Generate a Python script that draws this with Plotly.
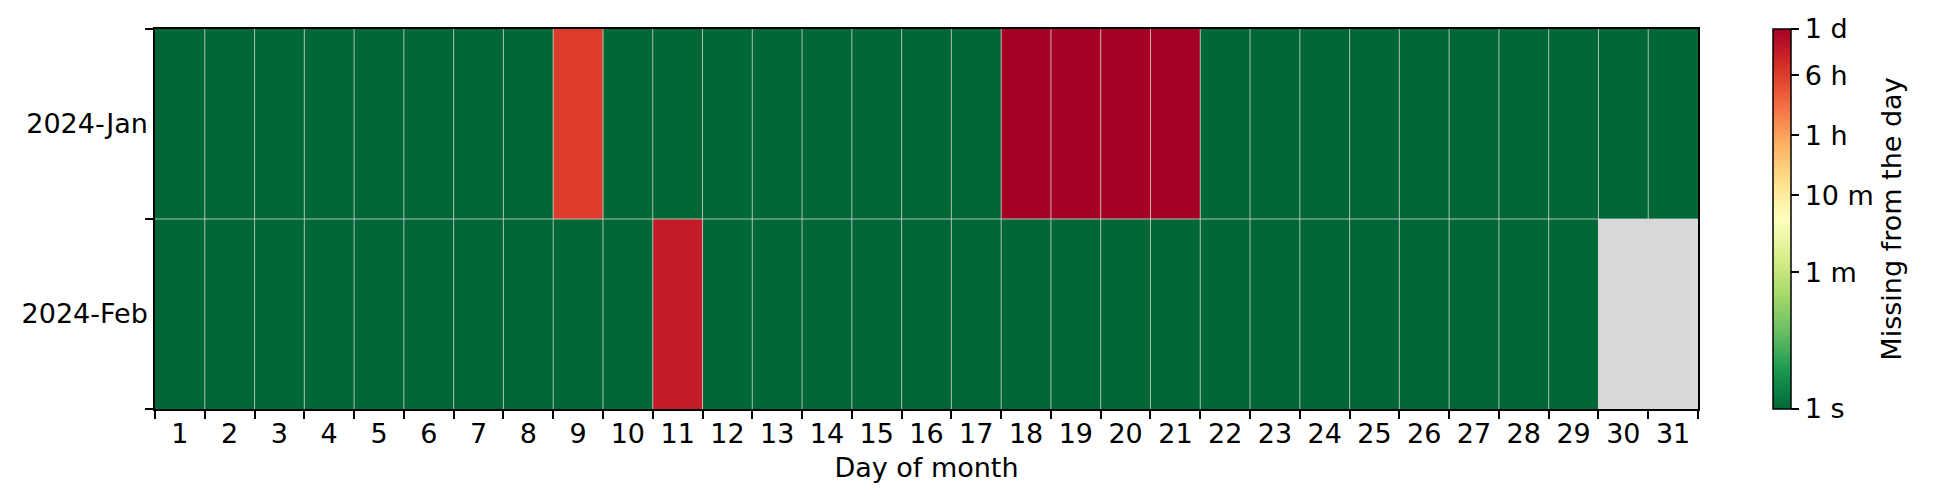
import numpy as np
import plotly.graph_objects as go

# seconds missing per day, None = day does not exist
days = list(range(1, 32))
months = ['2024-Jan', '2024-Feb']

jan_missing = [0] * 31
jan_missing[9 - 1] = 22000
for d in (18, 19, 20, 21):
    jan_missing[d - 1] = 86400

feb_missing = [0] * 29 + [None, None]
feb_missing[11 - 1] = 44700

cbar_vals = [1, 60, 600, 3600, 21600, 86400]
cbar_text = ['1 s', '1 m', '10 m', '1 h', '6 h', '1 d']

# log scale for colour (clip to 1 s at the bottom)
z = []
for row in (jan_missing, feb_missing):
    z.append([None if v is None else np.log10(max(v, 1)) for v in row])

font = dict(family='DejaVu Sans', size=27, color='black')

fig = go.Figure(go.Heatmap(
    x=days,
    y=[0, 1],
    z=z,
    zmin=0,
    zmax=np.log10(86400),
    colorscale='RdYlGn',
    reversescale=True,
    hoverongaps=False,
    colorbar=dict(
        x=1.0485, xanchor='left', xpad=0,
        y=0.5, yanchor='middle', ypad=0,
        len=1, lenmode='fraction',
        thickness=18, thicknessmode='pixels',
        outlinecolor='black', outlinewidth=1.5,
        tickvals=[np.log10(v) for v in cbar_vals],
        ticktext=cbar_text,
        ticks='outside', ticklen=8, tickwidth=1.5, tickcolor='black',
        tickfont=font,
        title=dict(text='Missing from the day', side='right', font=font),
    ),
))

# thin light lines between the cells, drawn over the heatmap
grid = dict(color='rgba(215,215,215,0.8)', width=1)
for d in days[:-1]:
    fig.add_shape(type='line', x0=d + 0.5, x1=d + 0.5, y0=0, y1=1,
                  xref='x', yref='y domain', line=grid, layer='above')
fig.add_shape(type='line', x0=0, x1=1, y0=0.5, y1=0.5,
              xref='x domain', yref='y', line=grid, layer='above')

fig.update_xaxes(
    range=[0.5, 31.5],
    tickvals=days,
    ticktext=[str(d) for d in days],
    ticks='',
    showgrid=False,
    zeroline=False,
    showline=True, linecolor='black', linewidth=1.5, mirror=True,
    layer='above traces',
    tickfont=font,
    title=dict(text='Day of month', font=font, standoff=10),
    minor=dict(tick0=0.5, dtick=1, ticks='outside', ticklen=8, tickwidth=1.5,
               tickcolor='black', showgrid=False),
)
fig.update_yaxes(
    range=[1.5, -0.5],
    tickvals=[0, 1],
    ticktext=months,
    ticks='',
    showgrid=False,
    zeroline=False,
    showline=True, linecolor='black', linewidth=1.5, mirror=True,
    layer='above traces',
    tickfont=font,
    minor=dict(tickvals=[-0.5, 0.5, 1.5], ticks='outside', ticklen=8, tickwidth=1.5,
               tickcolor='black', showgrid=False),
)

fig.update_layout(
    width=1930, height=494,
    margin=dict(l=147, r=240, t=21, b=93),
    plot_bgcolor='#d9d9d9',
    paper_bgcolor='white',
    font=font,
)

fig.write_html("out.html")
